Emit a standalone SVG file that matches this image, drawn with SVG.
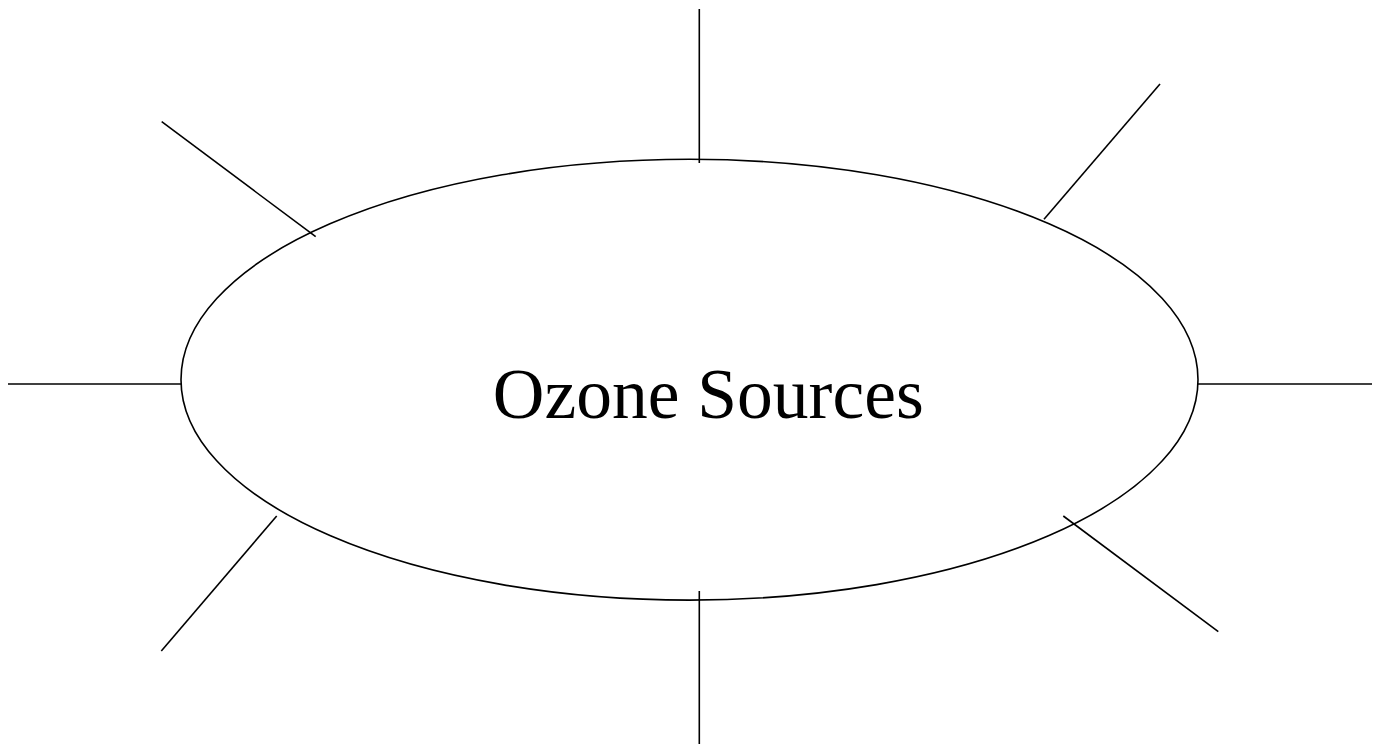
<svg xmlns="http://www.w3.org/2000/svg" width="1378" height="745" viewBox="0 0 1378 745">
<style>
.ln{stroke:#000;stroke-width:1.6;fill:none}
.lbl{font-family:"Liberation Serif","Times New Roman",serif;font-size:71.5px;fill:#000}
</style>
<rect width="1378" height="745" fill="#fff"/>
<g id="connectors">
<line class="ln" x1="699.3" y1="9" x2="699.3" y2="163"/>
<line class="ln" x1="1160" y1="84" x2="1044" y2="219.3"/>
<line class="ln" x1="1198" y1="384" x2="1372" y2="384"/>
<line class="ln" x1="1063.3" y1="516" x2="1218.3" y2="631.7"/>
<line class="ln" x1="699.3" y1="591" x2="699.3" y2="744"/>
<line class="ln" x1="276.7" y1="516" x2="161.3" y2="651"/>
<line class="ln" x1="8" y1="384" x2="181" y2="384"/>
<line class="ln" x1="161.7" y1="121.7" x2="315.7" y2="236.7"/>
</g>
<g id="ozone-sources">
<ellipse class="ln" cx="689.5" cy="379.7" rx="508.5" ry="220.4"/>
<text class="lbl" x="708.3" y="418.3" text-anchor="middle">Ozone Sources</text>
</g>
</svg>
